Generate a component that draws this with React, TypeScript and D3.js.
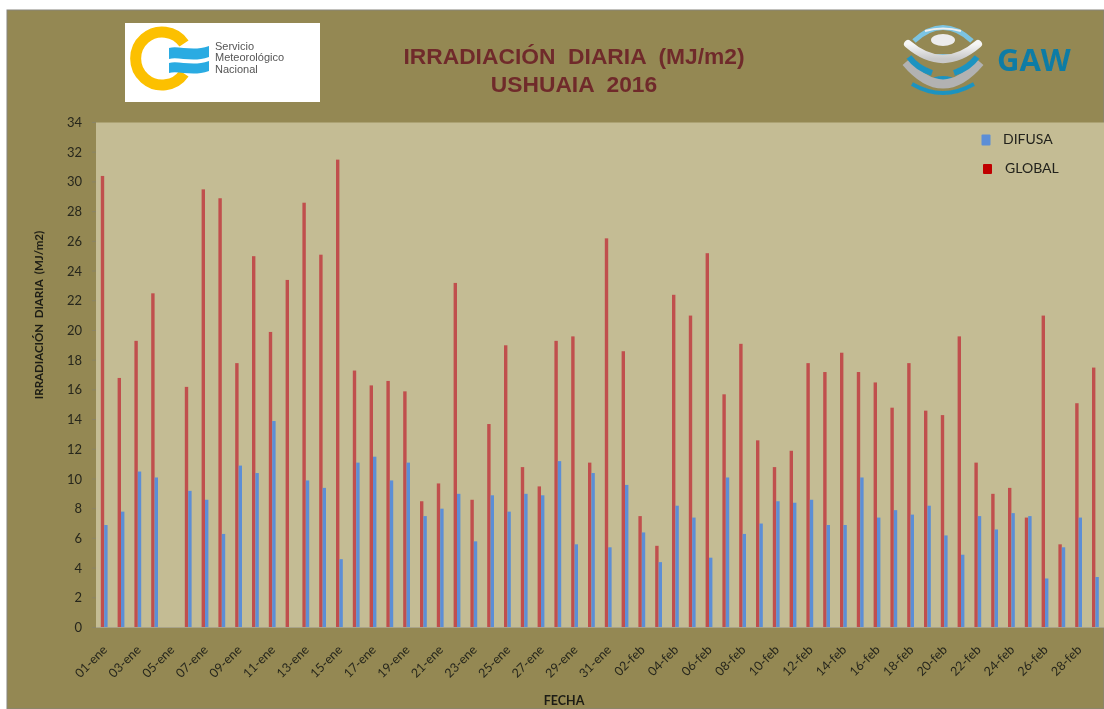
import React from "react";
import * as d3 from "d3";

const months: [string, number][] = [["ene", 31], ["feb", 29]];
const categories: string[] = months.flatMap(([m, n]) =>
  Array.from({ length: n }, (_, i) => `${String(i + 1).padStart(2, "0")}-${m}`)
);
const globalValues: (number | null)[] = [
  30.4, 16.8, 19.3, 22.5, null, 16.2, 29.5, 28.9, 17.8, 25.0, 19.9, 23.4, 28.6, 25.1, 31.5, 17.3,
  16.3, 16.6, 15.9, 8.5, 9.7, 23.2, 8.6, 13.7, 19.0, 10.8, 9.5, 19.3, 19.6, 11.1, 26.2,
  18.6, 7.5, 5.5, 22.4, 21.0, 25.2, 15.7, 19.1, 12.6, 10.8, 11.9, 17.8, 17.2, 18.5, 17.2,
  16.5, 14.8, 17.8, 14.6, 14.3, 19.6, 11.1, 9.0, 9.4, 7.4, 21.0, 5.6, 15.1, 17.5,
];
const difusaValues: (number | null)[] = [
  6.9, 7.8, 10.5, 10.1, null, 9.2, 8.6, 6.3, 10.9, 10.4, 13.9, null, 9.9, 9.4, 4.6, 11.1,
  11.5, 9.9, 11.1, 7.5, 8.0, 9.0, 5.8, 8.9, 7.8, 9.0, 8.9, 11.2, 5.6, 10.4, 5.4,
  9.6, 6.4, 4.4, 8.2, 7.4, 4.7, 10.1, 6.3, 7.0, 8.5, 8.4, 8.6, 6.9, 6.9, 10.1,
  7.4, 7.9, 7.6, 8.2, 6.2, 4.9, 7.5, 6.6, 7.7, 7.5, 3.3, 5.4, 7.4, 3.4,
];
const yTicks: number[] = d3.range(0, 35, 2);

const W = 1104, H = 709;
const frame = { left: 7, top: 10 };
const plot = { left: 96, right: 1104, top: 122.5, bottom: 627.5 };
const OLIVE = "#948853";
const PLOT_BG = "#c4bc94";
const RED = "#c0504d";
const BLUE = "#5b8ed6";
const SANS = "Lato, 'Open Sans', sans-serif";
const HEAD = "'Liberation Sans', Arial, sans-serif";
const TITLE = "#6f2b2c";

const x = d3.scaleBand<string>().domain(categories).range([plot.left, plot.right]).paddingInner(0).paddingOuter(0);
const y = d3.scaleLinear().domain([0, 34]).range([plot.bottom, plot.top]);
const barW = 3.4;

const wave = (yy: number, h: number) =>
  `M169 ${yy + 1} C178 ${yy - 2} 192 ${yy + 5} 209 ${yy - 1} L209 ${yy + h - 1} C192 ${yy + h + 5} 178 ${yy + h - 2} 169 ${yy + h + 1} Z`;

export default function App() {
  return (
    <svg width={W} height={H} viewBox={`0 0 ${W} ${H}`} style={{ position: "fixed", left: 0, top: 0, display: "block" }}>
      <defs>
        <filter id="soft" x="-5%" y="-5%" width="110%" height="110%">
          <feGaussianBlur stdDeviation="0.45" />
        </filter>
        <linearGradient id="ring" x1="0" y1="0" x2="0" y2="1">
          <stop offset="0" stopColor="#f6f6f6" />
          <stop offset="1" stopColor="#c9c9c9" />
        </linearGradient>
      </defs>
      <rect width={W} height={H} fill="#fff" />
      <rect x={frame.left} y={frame.top} width={W - frame.left} height={H - frame.top} fill={OLIVE} stroke="#85847c" strokeWidth={1} />
      <rect x={plot.left} y={plot.top} width={plot.right - plot.left} height={plot.bottom - plot.top} fill={PLOT_BG} />

      <g filter="url(#soft)">
        {categories.map((c, i) => {
          const g = globalValues[i], d = difusaValues[i];
          const x0 = x(c)! + x.bandwidth() / 2;
          return (
            <g key={c}>
              {g != null && <rect x={x0 - barW - 0.2} y={y(g)} width={barW} height={y(0) - y(g)} fill={RED} />}
              {d != null && <rect x={x0 - 0.2} y={y(d)} width={barW} height={y(0) - y(d)} fill={BLUE} />}
            </g>
          );
        })}
        <line x1={plot.left} x2={plot.right} y1={plot.bottom} y2={plot.bottom} stroke="#a8a38a" strokeWidth={1} />
        {yTicks.map((t) => (
          <g key={t}>
            <line x1={plot.left - 4} x2={plot.left} y1={y(t)} y2={y(t)} stroke="#8a8466" />
            <text x={plot.left - 14} y={y(t)} dy="0.35em" textAnchor="end" fontFamily={SANS} fontSize={13} fill="#26261c">{t}</text>
          </g>
        ))}
        {categories.map((c, i) =>
          i % 2 === 0 ? (
            <text
              key={c}
              transform={`translate(${x(c)! + x.bandwidth() / 2 + 0.5},${plot.bottom + 20}) rotate(-45)`}
              textAnchor="end"
              dy="0.35em"
              fontFamily={SANS}
              fontSize={12.5}
              fill="#26261c"
            >
              {c}
            </text>
          ) : null
        )}
        <text x={564} y={701} dy="0.35em" textAnchor="middle" fontFamily={SANS} fontWeight={700} fontSize={12.5} fill="#1c1c14">FECHA</text>
        <text transform="translate(39,315) rotate(-90)" dy="0.35em" textAnchor="middle" xmlSpace="preserve" fontFamily={SANS} fontWeight={700} fontSize={11.5} fill="#1c1c14">IRRADIACIÓN  DIARIA  (MJ/m2)</text>

        <text x={574} y={56} dy="0.35em" textAnchor="middle" xmlSpace="preserve" fontFamily={HEAD} fontWeight={700} fontSize={22.8} fill={TITLE}>IRRADIACIÓN  DIARIA  (MJ/m2)</text>
        <text x={574} y={84} dy="0.35em" textAnchor="middle" xmlSpace="preserve" fontFamily={HEAD} fontWeight={700} fontSize={22.8} fill={TITLE}>USHUAIA  2016</text>

        {/* legend */}
        <rect x={981.5} y={134.5} width={9} height={11} rx={1} fill={BLUE} />
        <text x={1003} y={139} dy="0.35em" fontFamily={SANS} fontSize={14} fill="#23231c">DIFUSA</text>
        <rect x={983} y={164} width={9} height={10} rx={1} fill="#c00000" />
        <text x={1005} y={168} dy="0.35em" fontFamily={SANS} fontSize={14} fill="#23231c">GLOBAL</text>

        {/* SMN logo */}
        <rect x={125} y={23} width={195} height={79} fill="#fff" />
        <path d="M184 43.5 A26.5 26.5 0 1 0 184 73.5" fill="none" stroke="#fcc000" strokeWidth={11} />
        <path d={wave(47, 11)} fill="#29abe2" />
        <path d={wave(62, 10)} fill="#29abe2" />
        <text fontFamily={HEAD} fontSize={11} fill="#555">
          <tspan x={215} y={49.5}>Servicio</tspan>
          <tspan x={215} y={61}>Meteorológico</tspan>
          <tspan x={215} y={72.5}>Nacional</tspan>
        </text>

        {/* GAW logo */}
        <path d="M912 84 Q943 102 974 84" fill="none" stroke="#1f93c0" strokeWidth={4} />
        <ellipse cx={943} cy={79} rx={11} ry={3} fill="#1f93c0" />
        <path d="M906 62 Q943 106 980 62" fill="none" stroke="#b2b2b2" strokeWidth={9} />
        <path d="M909 57 Q917 68 932 73" fill="none" stroke="#1f93c0" strokeWidth={6} />
        <path d="M977 57 Q969 68 954 73" fill="none" stroke="#1f93c0" strokeWidth={6} />
        <ellipse cx={943} cy={57} rx={16} ry={3} fill="#6fbcdd" />
        <path d="M914 41 Q943 14 972 41" fill="none" stroke="#7cc4e2" strokeWidth={5} />
        <path d="M925 31 Q943 26 961 31" fill="none" stroke="#efefef" strokeWidth={2} />
        <path d="M908 44 Q943 74 978 44" fill="none" stroke="url(#ring)" strokeWidth={8} strokeLinecap="round" />
        <ellipse cx={943} cy={40} rx={12} ry={6} fill="#ececec" />
        <text x={997} y={71} fontFamily={"'Open Sans', sans-serif"} fontWeight={700} fontSize={31} fill="#0f7ca5">GAW</text>
      </g>
    </svg>
  );
}
